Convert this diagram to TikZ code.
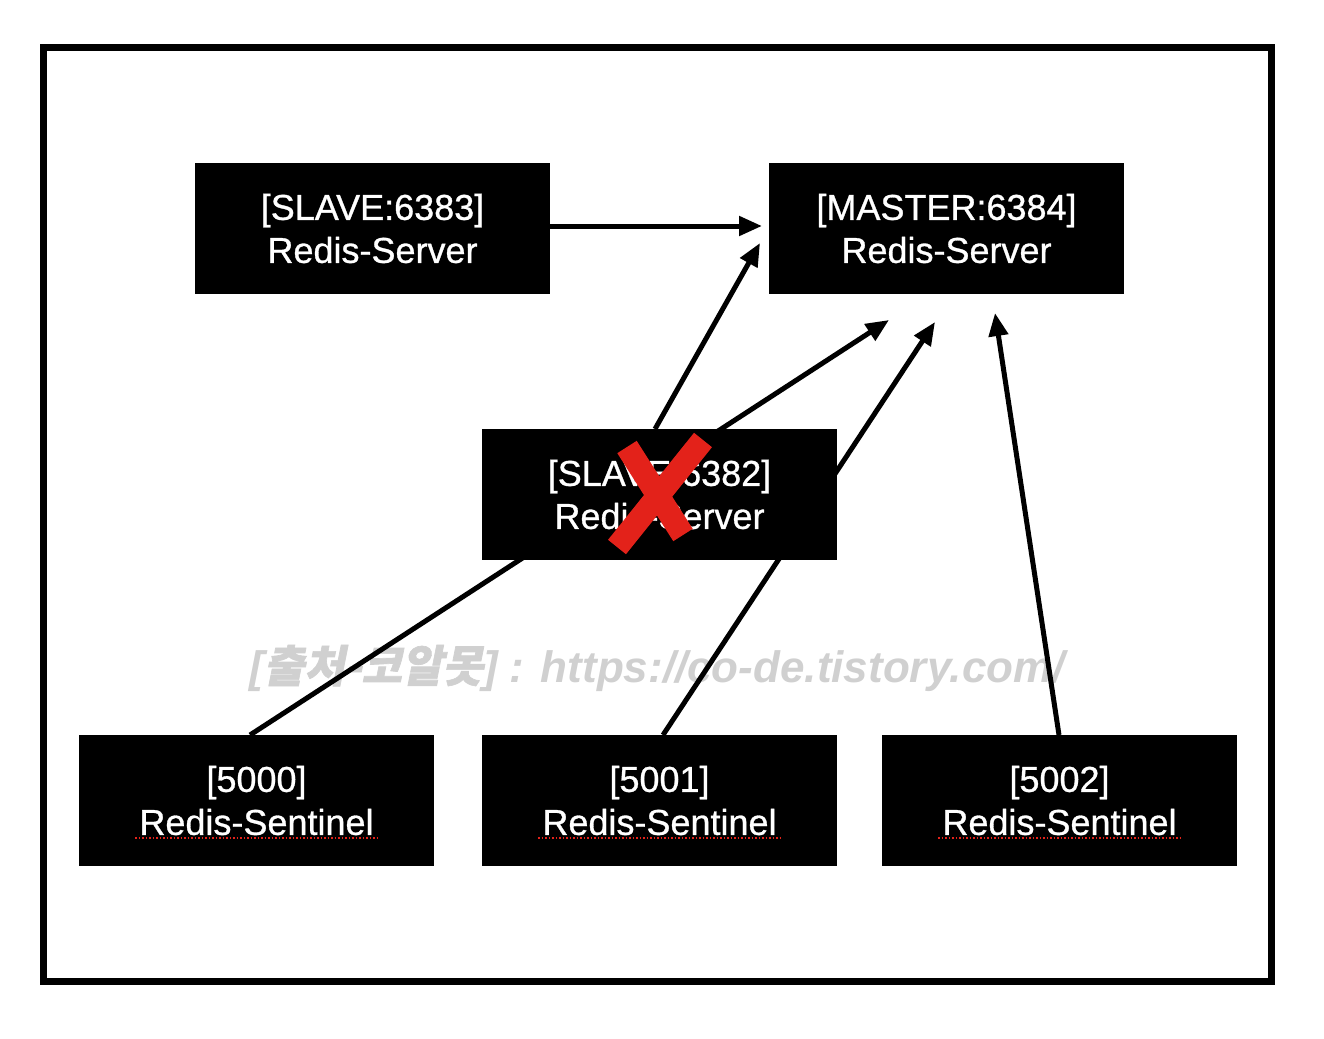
\documentclass[tikz,border=0pt]{standalone}
\usepackage{fontspec}
\setmainfont{Liberation Sans}
\newfontfamily\boxfont[FakeBold=0.8]{Liberation Sans}
\newfontfamily\krfont[FakeSlant=0.2,FakeBold=1.5]{Noto Sans CJK KR}
\usetikzlibrary{arrows.meta}
\pgfdeclarelayer{bg}
\pgfsetlayers{bg,main}
\definecolor{xred}{HTML}{E3221A}
\definecolor{wmgray}{HTML}{D0D0D0}
\tikzset{
  box/.style={fill=black, text=white, minimum width=355pt, minimum height=131pt,
    inner sep=0pt, align=center, font=\boxfont\fontsize{36}{43}\selectfont},
  link/.style={line width=5pt, -{Triangle[length=23pt,width=19pt]}},
  cross/.style={xred, line width=23pt},
  squiggle/.style={xred, line width=1.5pt, dotted}
}
\begin{document}
\begin{tikzpicture}[x=1pt,y=-1pt]
\useasboundingbox (0,0) rectangle (1324,1038);
\draw[line width=7pt] (43,48) rectangle (1271,981);

\node[box] (s6383) at (372.5,228.5) {[SLAVE:6383]\\Redis-Server};
\node[box] (master) at (946.5,228.5) {[MASTER:6384]\\Redis-Server};
\node[box] (s6382) at (659.5,494.5) {[SLAVE:6382]\\Redis-Server};
\node[box] (sen0) at (256.5,800.5) {[5000]\\Redis-Sentinel};
\node[box] (sen1) at (659.5,800.5) {[5001]\\Redis-Sentinel};
\node[box] (sen2) at (1059.5,800.5) {[5002]\\Redis-Sentinel};

\coordinate (t1) at (762,226);
\coordinate (t2) at (760,243);
\coordinate (t3) at (889,320);
\coordinate (t4) at (935,322);
\coordinate (t5) at (995,313);
\coordinate (f2) at (655,429);
\coordinate (f3) at (250,735);
\coordinate (f4) at (663,735);
\coordinate (f5) at (1059,735);

\begin{pgfonlayer}{bg}
  \node[text=wmgray, font=\fontsize{44}{50}\selectfont\bfseries\itshape] (wm) at (657,668)
    {[{\krfont 출처-코알못}] : https://co-de.tistory.com/};
  \draw[link] (s6383.east |- t1) -- (t1);
  \draw[link] (f2) -- (t2);
  \draw[link] (f3) -- (t3);
  \draw[link] (f4) -- (t4);
  \draw[link] (f5) -- (t5);
\end{pgfonlayer}

\coordinate (xa1) at (627,447);
\coordinate (xa2) at (683,535);
\coordinate (xb1) at (703,440);
\coordinate (xb2) at (617,547);
\draw[cross] (xa1) -- (xa2);
\draw[cross] (xb1) -- (xb2);

\coordinate (u0a) at (135,838); \coordinate (u0b) at (378,838);
\coordinate (u1a) at (538,838); \coordinate (u1b) at (781,838);
\coordinate (u2a) at (938,838); \coordinate (u2b) at (1181,838);
\draw[squiggle] (u0a) -- (u0b);
\draw[squiggle] (u1a) -- (u1b);
\draw[squiggle] (u2a) -- (u2b);
\end{tikzpicture}
\end{document}
